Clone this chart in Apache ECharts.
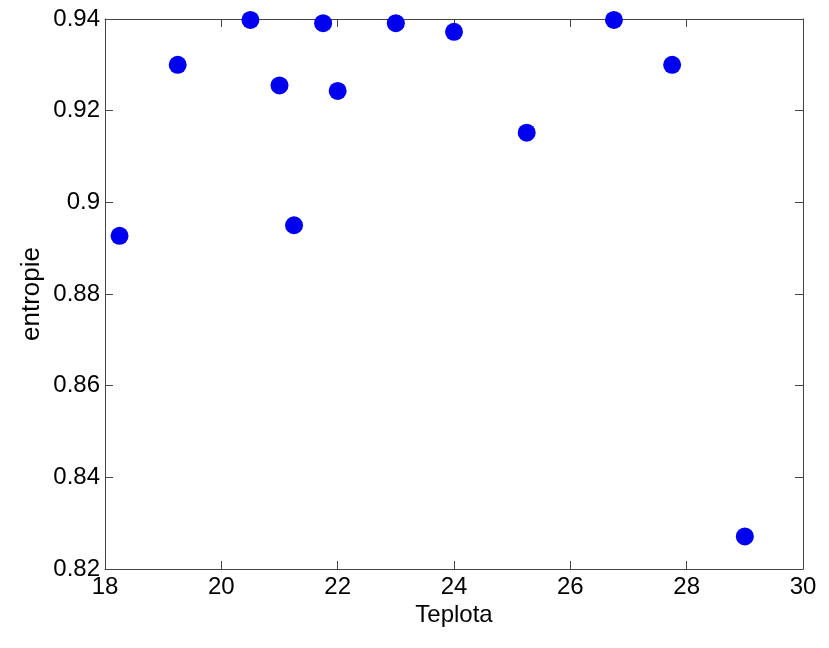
<!DOCTYPE html>
<html>
<head>
<meta charset="utf-8">
<script src="https://cdn.jsdelivr.net/npm/echarts@6/dist/echarts.min.js"></script>
<style>
  html, body { margin: 0; padding: 0; background: #fff; }
  #chart { width: 829px; height: 648px; }
</style>
</head>
<body>
<div id="chart"></div>
<script>
// Temperature (Teplota) readings and their entropy values
const teplota = [18.25, 19.25, 20.5, 21.0, 21.25, 21.75, 22.0, 23.0, 24.0, 25.25, 26.75, 27.75, 29.0];
const entropie = [0.8927, 0.9300, 0.9398, 0.9255, 0.8950, 0.9391, 0.9243, 0.9391, 0.9372, 0.9152, 0.9398, 0.9300, 0.8271];

const xTicks = [18, 20, 22, 24, 26, 28, 30];
const yTicks = [0.82, 0.84, 0.86, 0.88, 0.9, 0.92, 0.94];

const points = teplota.map((t, i) => [t, entropie[i]]);

const font = 'Liberation Sans, Arial, sans-serif';
const lineColor = '#444';

const boxAxis = {
  axisLine: { show: true, onZero: false, lineStyle: { color: lineColor, width: 1 } },
  axisTick: { show: true, inside: true, length: 8, lineStyle: { color: lineColor } },
  splitLine: { show: false }
};

const chart = echarts.init(document.getElementById('chart'), null, { renderer: 'canvas' });
chart.setOption({
  animation: false,
  backgroundColor: '#ffffff',
  grid: { left: 105, right: 26, top: 19, bottom: 79, containLabel: false },
  xAxis: [
    Object.assign({
      type: 'value', position: 'bottom',
      min: xTicks[0], max: xTicks[xTicks.length - 1], interval: 2,
      name: 'Teplota', nameLocation: 'middle', nameGap: 34, nameMoveOverlap: false,
      nameTextStyle: { fontFamily: font, fontSize: 24, color: '#000' },
      axisLabel: { fontFamily: font, fontSize: 24, color: '#000', margin: 6 }
    }, boxAxis),
    Object.assign({
      type: 'value', position: 'top',
      min: xTicks[0], max: xTicks[xTicks.length - 1], interval: 2,
      axisLabel: { show: false }
    }, boxAxis)
  ],
  yAxis: [
    Object.assign({
      type: 'value', position: 'left',
      min: yTicks[0], max: yTicks[yTicks.length - 1], interval: 0.02,
      name: 'entropie', nameLocation: 'middle', nameGap: 60, nameMoveOverlap: false,
      nameTextStyle: { fontFamily: font, fontSize: 26, color: '#000' },
      axisLabel: {
        fontFamily: font, fontSize: 24, color: '#000', margin: 5,
        formatter: v => String(Math.round(v * 100) / 100)
      }
    }, boxAxis),
    Object.assign({
      type: 'value', position: 'right',
      min: yTicks[0], max: yTicks[yTicks.length - 1], interval: 0.02,
      axisLabel: { show: false }
    }, boxAxis)
  ],
  series: [{
    type: 'scatter',
    xAxisIndex: 0,
    yAxisIndex: 0,
    data: points,
    symbol: 'circle',
    symbolSize: 18,
    clip: false,
    itemStyle: { color: '#0000f0', opacity: 1 }
  }]
});
</script>
</body>
</html>
